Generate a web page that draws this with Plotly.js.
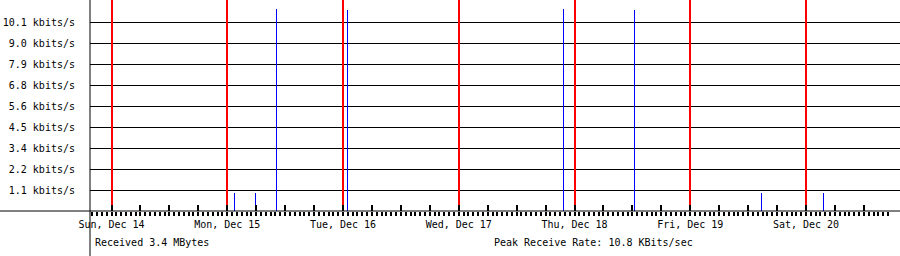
<!DOCTYPE html>
<html><head><meta charset="utf-8">
<script src="https://cdn.plot.ly/plotly-3.0.1.min.js"></script>
<style>html,body{margin:0;padding:0;background:#fff}#chart{width:900px;height:256px}
#chart .js-line{shape-rendering:crispEdges}</style>
</head><body><div id="chart"></div>
<script>
// ---- data ----
const dayStarts = ['2025-12-14','2025-12-15','2025-12-16','2025-12-17','2025-12-18','2025-12-19','2025-12-20'];
const dayLabels = ['Sun, Dec 14','Mon, Dec 15','Tue, Dec 16','Wed, Dec 17','Thu, Dec 18','Fri, Dec 19','Sat, Dec 20'];
const spikeTimes = ['2025-12-15 01:28','2025-12-15 05:49','2025-12-15 10:07','2025-12-16 00:53','2025-12-17 21:41','2025-12-18 12:29','2025-12-19 14:44','2025-12-20 03:35'];
const spikeRates = [0.98, 0.98, 10.85, 10.8, 10.85, 10.8, 0.98, 0.98];
const yTickValues = [1.126, 2.252, 3.378, 4.504, 5.63, 6.756, 7.882, 9.008, 10.134];
const yTickLabels = ['1.1 kbits/s','2.2 kbits/s','3.4 kbits/s','4.5 kbits/s','5.6 kbits/s','6.8 kbits/s','7.9 kbits/s','9.0 kbits/s','10.1 kbits/s'];
const totalReceived = '3.4 MBytes';
const peakRate = '10.8 KBits/sec';
const xRange = ['2025-12-13 19:32:30','2025-12-20 19:29:30'];
const hourTickStart = '2025-12-13 20:00';
const hourTickEnd = '2025-12-20 17:00';
const yMax = 11.314;

// ---- helpers ----
const HOUR = 3600000;
function ms(s){const p=s.split(' ');const d=p[0].split('-').map(Number);const t=(p[1]||'00:00:00').split(':').map(Number);return Date.UTC(d[0],d[1]-1,d[2],t[0]||0,t[1]||0,t[2]||0);}
function str(v){return new Date(v).toISOString().replace('T',' ').slice(0,19);}

const majorVals=[], majorText=[];
const t0 = ms(dayStarts[0]);
for(let t=t0;t<=ms(hourTickEnd);t+=6*HOUR){
  majorVals.push(str(t));
  const k=(t-t0)/(24*HOUR);
  majorText.push(Number.isInteger(k)&&k<dayLabels.length?dayLabels[k]:'');
}
const hourVals=[];
for(let t=ms(hourTickStart);t<=ms(hourTickEnd);t+=HOUR) hourVals.push(str(t));

const redX=[], redY=[];
dayStarts.forEach(d=>{redX.push(d,d,null);redY.push(0,yMax,null);});
const spX=[], spY=[];
spikeTimes.forEach((t,i)=>{spX.push(t,t,null);spY.push(0,spikeRates[i],null);});

const FONT='DejaVu Sans Mono';
const data=[
  {type:'scatter',mode:'lines',x:redX,y:redY,line:{color:'#ff0000',width:2},hoverinfo:'skip',connectgaps:false},
  {type:'scatter',mode:'lines',x:spX,y:spY,line:{color:'#0000ff',width:1},hoverinfo:'skip',connectgaps:false},
  {type:'scatter',mode:'lines',x:[],y:[],xaxis:'x2',yaxis:'y',hoverinfo:'skip'}
];
const layout={
  width:900,height:256,margin:{l:90,r:0,t:0,b:45,pad:0},
  paper_bgcolor:'#ffffff',plot_bgcolor:'#ffffff',showlegend:false,
  font:{family:FONT,size:10,color:'#000'},
  xaxis:{type:'date',range:xRange,tickmode:'array',tickvals:majorVals,ticktext:majorText,
    ticks:'inside',ticklen:6,tickwidth:2,tickcolor:'#000',showgrid:false,zeroline:false,showline:false,
    ticklabelstandoff:6,tickfont:{family:FONT,size:10,color:'#000'}},
  xaxis2:{type:'date',overlaying:'x',anchor:'y',side:'bottom',range:xRange,tickmode:'array',tickvals:hourVals,
    ticks:'outside',ticklen:4,tickwidth:2,tickcolor:'#000',showticklabels:false,showgrid:false,zeroline:false,showline:false},
  yaxis:{range:[0,yMax],tickmode:'array',tickvals:yTickValues,ticktext:yTickLabels,ticks:'',
    showgrid:true,gridcolor:'#000',gridwidth:1,zeroline:false,showline:false,ticklabelstandoff:14,
    tickfont:{family:FONT,size:10,color:'#000'}},
  shapes:[
    {type:'line',xref:'paper',yref:'paper',x0:0,x1:0,y0:-45/211,y1:1,line:{color:'#000',width:1},layer:'above'},
    {type:'line',xref:'paper',yref:'paper',x0:-90/810,x1:1,y0:0,y1:0,line:{color:'#000',width:1},layer:'above'}
  ],
  annotations:[
    {xref:'paper',yref:'paper',x:3/810,y:-31.7/211,xanchor:'left',yanchor:'middle',showarrow:false,
     text:'Received '+totalReceived,font:{family:FONT,size:10,color:'#000'}},
    {xref:'paper',yref:'paper',x:402/810,y:-31.7/211,xanchor:'left',yanchor:'middle',showarrow:false,
     text:'Peak Receive Rate: '+peakRate,font:{family:FONT,size:10,color:'#000'}}
  ]
};
Plotly.newPlot('chart',data,layout,{staticPlot:true,displayModeBar:false});
</script></body></html>
